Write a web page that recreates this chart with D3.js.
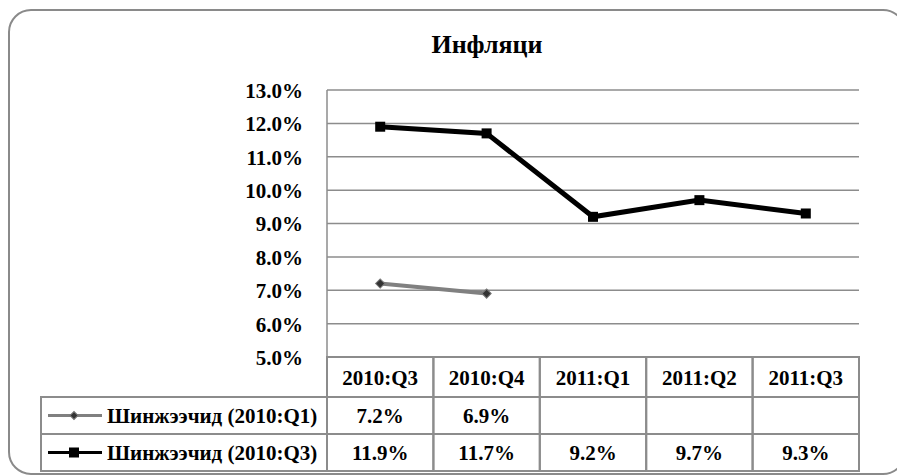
<!DOCTYPE html>
<meta charset='utf-8'>
<style>
  body { margin:0; background:#fff; }
  svg text { font-family:'Liberation Serif','Times New Roman',serif; font-weight:bold; fill:#000; }
  .grid { stroke:#8c8c8c; stroke-width:1.5px; }
  .cell { fill:none; stroke:#8c8c8c; stroke-width:2px; }
</style>
<body>
<script src='https://d3js.org/d3.v7.min.js'></script>
<script>
  var categories = ['2010:Q3','2010:Q4','2011:Q1','2011:Q2','2011:Q3'];
  var forecastQ1 = [7.2, 6.9, null, null, null];
  var forecastQ3 = [11.9, 11.7, 9.2, 9.7, 9.3];
  var seriesNames = ['Шинжээчид (2010:Q1)','Шинжээчид (2010:Q3)'];
  var yTicks = [5,6,7,8,9,10,11,12,13];

  var width = 897, height = 476;
  var plotLeft = 327, plotRight = 859, plotTop = 90, plotBottom = 357;
  var rowH = [40, 37, 37];
  var legendLeft = 41;
  var serif = "'Liberation Serif','Times New Roman',serif";

  var svg = d3.select('body').append('svg')
    .attr('width',width)
    .attr('height',height);

  // frame
  svg.append('rect')
    .attr('x',9).attr('y',10)
    .attr('width',896).attr('height',464)
    .attr('rx',22).attr('ry',22)
    .attr('fill','#fff')
    .attr('stroke','#8a8a8a')
    .attr('stroke-width',2);

  svg.append('text')
    .attr('x',487).attr('y',53)
    .attr('text-anchor','middle')
    .attr('font-family',serif)
    .style('font-size','26px')
    .text('Инфляци');

  var x = d3.scaleBand().domain(categories).range([plotLeft,plotRight]);
  var y = d3.scaleLinear().domain([5,13]).range([plotBottom,plotTop]);
  var cx = function(i){ return x(categories[i]) + x.bandwidth()/2; };

  // gridlines
  svg.append('g').selectAll('line')
    .data(yTicks)
    .join('line')
    .attr('class','grid')
    .attr('x1',plotLeft).attr('x2',plotRight)
    .attr('y1',function(d){ return y(d); })
    .attr('y2',function(d){ return y(d); });

  svg.append('line').attr('class','grid')
    .attr('x1',plotLeft).attr('x2',plotLeft)
    .attr('y1',plotTop).attr('y2',plotBottom);

  svg.append('g').selectAll('text')
    .data(yTicks)
    .join('text')
    .attr('x',303)
    .attr('y',function(d){ return y(d); })
    .attr('dy','0.38em')
    .attr('text-anchor','end')
    .attr('font-family',serif)
    .style('font-size','21px')
    .text(function(d){ return d.toFixed(1) + '%'; });

  // lines
  var line = d3.line()
    .defined(function(d){ return d != null; })
    .x(function(d,i){ return cx(i); })
    .y(function(d){ return y(d); });

  svg.append('path')
    .datum(forecastQ1)
    .attr('d',line)
    .attr('fill','none')
    .attr('stroke','#808080')
    .attr('stroke-width',4);

  svg.append('g').selectAll('path')
    .data(forecastQ1.map(function(d,i){ return [d,i]; }).filter(function(p){ return p[0] != null; }))
    .join('path')
    .attr('d',d3.symbol(d3.symbolSquare,42))
    .attr('transform',function(p){ return 'translate(' + cx(p[1]) + ',' + y(p[0]) + ') rotate(45)'; })
    .attr('fill','#333')
    .attr('stroke','#777')
    .attr('stroke-width',1);

  svg.append('path')
    .datum(forecastQ3)
    .attr('d',line)
    .attr('fill','none')
    .attr('stroke','#000')
    .attr('stroke-width',5);

  svg.append('g').selectAll('rect')
    .data(forecastQ3)
    .join('rect')
    .attr('x',function(d,i){ return cx(i) - 5; })
    .attr('y',function(d){ return y(d) - 5; })
    .attr('width',10).attr('height',10)
    .attr('fill','#000');

  // data table
  var t = svg.append('g');
  var y0 = plotBottom, y1 = plotBottom + rowH[0], y2 = y1 + rowH[1], y3 = y2 + rowH[2];

  categories.forEach(function(c,i){
    t.append('rect').attr('class','cell')
      .attr('x',x(c)).attr('y',y0)
      .attr('width',x.bandwidth()).attr('height',y3 - y0);
    t.append('text')
      .attr('x',cx(i)).attr('y',(y0 + y1)/2)
      .attr('dy','0.36em').attr('text-anchor','middle')
      .attr('font-family',serif)
      .style('font-size','21px')
      .text(c);
  });
  [y1,y2].forEach(function(yy){
    t.append('line').attr('class','grid').style('stroke-width','2px')
      .attr('x1',legendLeft).attr('x2',plotRight).attr('y1',yy).attr('y2',yy);
  });
  t.append('rect').attr('class','cell')
    .attr('x',legendLeft).attr('y',y1)
    .attr('width',plotLeft - legendLeft).attr('height',y3 - y1);

  var rows = [forecastQ1, forecastQ3];
  rows.forEach(function(vals,r){
    var cy = (r === 0) ? (y1 + y2)/2 : (y2 + y3)/2;
    vals.forEach(function(v,i){
      if (v == null) return;
      t.append('text')
        .attr('x',cx(i)).attr('y',cy)
        .attr('dy','0.36em').attr('text-anchor','middle')
        .attr('font-family',serif)
        .style('font-size','21px')
        .text(v.toFixed(1) + '%');
    });
    t.append('text')
      .attr('x',107).attr('y',cy)
      .attr('dy','0.36em')
      .attr('font-family',serif)
      .style('font-size','21px')
      .text(seriesNames[r]);
    // legend key
    t.append('line')
      .attr('x1',48).attr('x2',102).attr('y1',cy).attr('y2',cy)
      .attr('stroke', r === 0 ? '#808080' : '#000')
      .attr('stroke-width',3);
    if (r === 0) {
      t.append('path')
        .attr('d',d3.symbol(d3.symbolSquare,32))
        .attr('transform','translate(74,' + cy + ') rotate(45)')
        .attr('fill','#333').attr('stroke','#777');
    } else {
      t.append('rect')
        .attr('x',69).attr('y',cy - 5).attr('width',10).attr('height',10)
        .attr('fill','#000');
    }
  });
</script>
</body>
